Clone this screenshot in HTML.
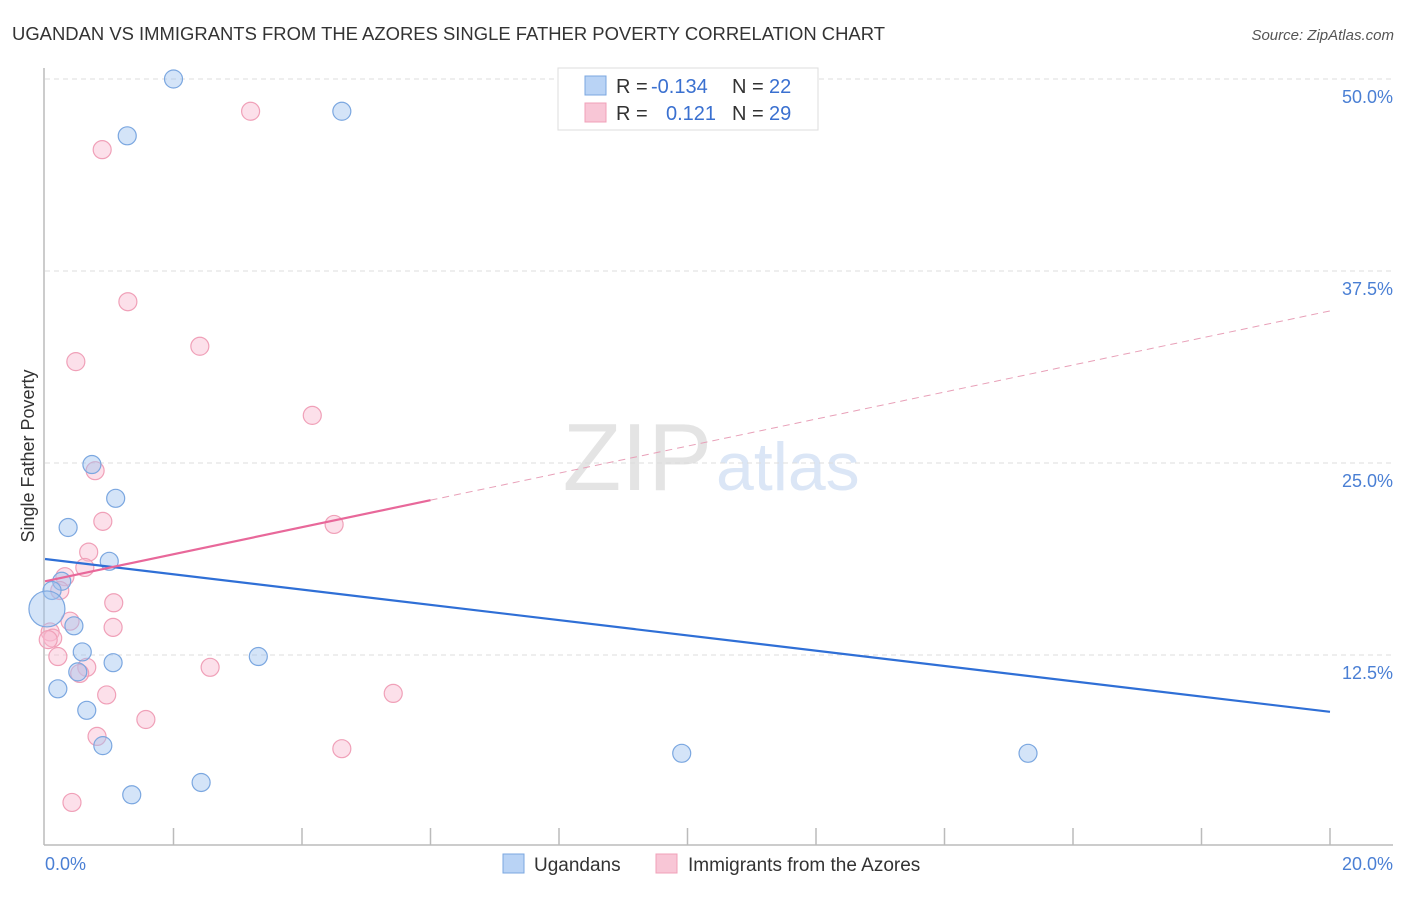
<!DOCTYPE html>
<html><head><meta charset="utf-8">
<style>
body{margin:0;background:#fff;font-family:"Liberation Sans",sans-serif;}
svg text{font-family:"Liberation Sans",sans-serif;}
</style></head>
<body>
<svg id="c" width="1406" height="892">
<text x="12" y="40" font-size="18" fill="#333" textLength="873" lengthAdjust="spacingAndGlyphs">UGANDAN VS IMMIGRANTS FROM THE AZORES SINGLE FATHER POVERTY CORRELATION CHART</text>
<text x="1394" y="40" font-size="15" fill="#555" text-anchor="end" font-style="italic">Source: ZipAtlas.com</text>
<text x="712" y="490" font-size="96" fill="#e4e4e4" text-anchor="end" font-family="Liberation Serif">ZIP</text>
<text x="716" y="490" font-size="68" fill="#dbe6f6">atlas</text>
<g id="grid"></g>
<g id="axes"></g>
<g id="pts"></g>
<g id="trends"></g>
<text transform="translate(34,456) rotate(-90)" font-size="18" fill="#333" text-anchor="middle">Single Father Poverty</text>
<text x="45" y="870" font-size="18" fill="#4a7fd4">0.0%</text>
<text x="1393" y="870" font-size="18" fill="#4a7fd4" text-anchor="end">20.0%</text>
<g>
<rect x="558" y="68" width="260" height="62" fill="#fff" stroke="#ddd"/>
<rect x="585" y="76" width="21" height="19" fill="#b9d3f5" stroke="#7ba7e0"/>
<rect x="585" y="103" width="21" height="19" fill="#f8c6d6" stroke="#f0a0b8"/>
<text x="616" y="93" font-size="20" fill="#333">R = </text><text x="651" y="93" font-size="20" fill="#3a70d0">-0.134</text>
<text x="732" y="93" font-size="20" fill="#333">N = </text><text x="769" y="93" font-size="20" fill="#3a70d0">22</text>
<text x="616" y="120" font-size="20" fill="#333">R = </text><text x="666" y="120" font-size="20" fill="#3a70d0">0.121</text>
<text x="732" y="120" font-size="20" fill="#333">N = </text><text x="769" y="120" font-size="20" fill="#3a70d0">29</text>
</g>
<g>
<rect x="503" y="854" width="21" height="19" fill="#b9d3f5" stroke="#7ba7e0"/>
<text x="534" y="871" font-size="19" fill="#333">Ugandans</text>
<rect x="656" y="854" width="21" height="19" fill="#f8c6d6" stroke="#f0a0b8"/>
<text x="688" y="871" font-size="19" fill="#333">Immigrants from the Azores</text>
</g>
</svg>
<script>
const yTicks=[12.5,25,37.5,50];
const yTickLabels=["12.5%","25.0%","37.5%","50.0%"];
const xTicks=[2,4,6,8,10,12,14,16,18,20];
const blueX=[2.0,1.28,4.62,0.73,1.1,0.36,1.0,0.26,0.11,0.45,0.58,1.06,3.32,0.51,0.2,0.65,0.9,1.35,2.43,9.91,15.3,0.03];
const blueY=[50.0,46.3,47.9,24.9,22.7,20.8,18.6,17.3,16.7,14.4,12.7,12.0,12.4,11.4,10.3,8.9,6.6,3.4,4.2,6.1,6.1,15.5];
const blueR=[9,9,9,9,9,9,9,9,9,9,9,9,9,9,9,9,9,9,9,9,9,18];
const pinkX=[3.2,0.89,1.29,0.48,2.41,4.16,0.78,0.9,4.5,0.68,0.62,0.31,0.23,1.07,1.06,0.39,0.08,0.12,0.2,0.65,2.57,0.54,0.96,5.42,1.57,0.81,4.62,0.42,0.05];
const pinkY=[47.9,45.4,35.5,31.6,32.6,28.1,24.5,21.2,21.0,19.2,18.2,17.6,16.7,15.9,14.3,14.7,14.0,13.6,12.4,11.7,11.7,11.3,9.9,10.0,8.3,7.2,6.4,2.9,13.5];
const blueTrend=[18.75,8.8];
const pinkTrend=[17.3,34.9];
const pinkSolidEnd=6;
const X=v=>45+v*64.25, Y=v=>847-v*192/12.5;
const NS="http://www.w3.org/2000/svg";
function mk(t,a,p){const e=document.createElementNS(NS,t);for(const k in a)e.setAttribute(k,a[k]);p.appendChild(e);return e;}
const grid=document.getElementById('grid'),axes=document.getElementById('axes'),pts=document.getElementById('pts'),tr=document.getElementById('trends');
yTicks.forEach((t,i)=>{
 const l=mk('line',{x1:45,x2:1393,y1:Y(t),y2:Y(t),stroke:'#ddd','stroke-dasharray':'5,4'},grid);
 
 
 const tx=mk('text',{x:1393,y:Y(t)+24,'font-size':18,fill:'#4a7fd4','text-anchor':'end'},grid);
 tx.textContent=yTickLabels[i];
 
 
});
let a=mk('line',{x1:44,x2:44,y1:68,y2:845,stroke:'#bbb','stroke-width':1.5},axes);


a=mk('line',{x1:44,x2:1393,y1:845,y2:845,stroke:'#bbb','stroke-width':1.5},axes);


xTicks.forEach(t=>{
 const l=mk('line',{x1:X(t),x2:X(t),y1:828,y2:845,stroke:'#bbb','stroke-width':1.5},axes);
 
 
});
pinkX.forEach((x,i)=>{
 const c=mk('circle',{cx:X(x),cy:Y(pinkY[i]),r:9,fill:'rgba(248,187,208,0.45)',stroke:'#f0a0b8','stroke-width':1.2},pts);
 
 
});
blueX.forEach((x,i)=>{
 const c=mk('circle',{cx:X(x),cy:Y(blueY[i]),r:blueR[i],fill:'rgba(160,196,240,0.45)',stroke:'#7ba7e0','stroke-width':1.2},pts);
 
 
});
let t=mk('line',{x1:X(0),y1:Y(blueTrend[0]),x2:X(20),y2:Y(blueTrend[1]),stroke:'#2f6fd6','stroke-width':2.2},tr);


const pm=pinkTrend[0]+(pinkTrend[1]-pinkTrend[0])*pinkSolidEnd/20;
t=mk('line',{x1:X(0),y1:Y(pinkTrend[0]),x2:X(pinkSolidEnd),y2:Y(pm),stroke:'#e8689a','stroke-width':2.2},tr);


t=mk('line',{x1:X(pinkSolidEnd),y1:Y(pm),x2:X(20),y2:Y(pinkTrend[1]),stroke:'#e8a0b8','stroke-width':1,'stroke-dasharray':'7,5'},tr);


</script>
</body></html>
